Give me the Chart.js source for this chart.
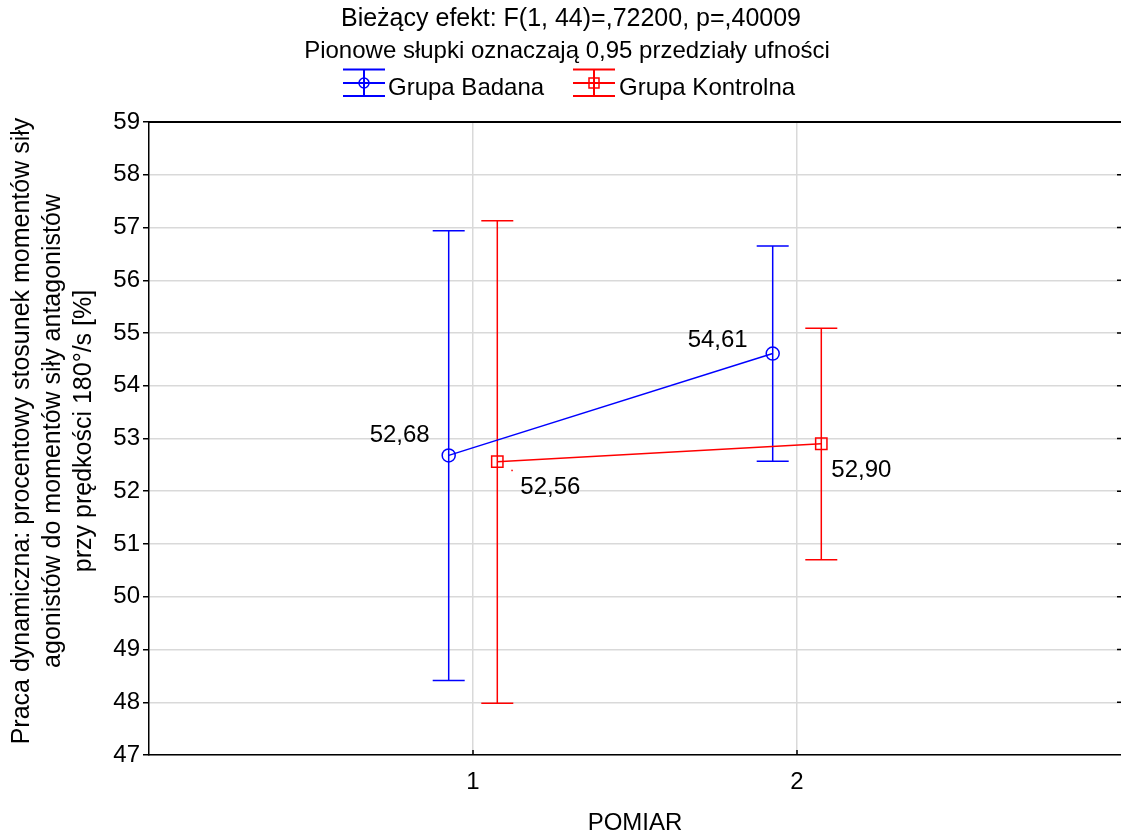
<!DOCTYPE html>
<html><head><meta charset="utf-8">
<script src="https://cdn.jsdelivr.net/npm/chart.js@4/dist/chart.umd.min.js"></script>
<style>html,body{margin:0;padding:0;background:#fff;overflow:hidden}canvas{display:block}</style>
</head><body>
<canvas id="c" width="1121" height="836"></canvas>
<script>
// ---- data ----
const categories = [1, 2];
const tickLabels = ['1', '2'];
const seriesNames = ['Grupa Badana', 'Grupa Kontrolna'];
const badanaMean = [52.68, 54.61];
const badanaLower = [48.41, 52.57];
const badanaUpper = [56.94, 56.65];
const kontrolnaMean = [52.56, 52.90];
const kontrolnaLower = [47.98, 50.70];
const kontrolnaUpper = [57.13, 55.09];
const yMin = 47, yMax = 59;
const titleLines = ['Bieżący efekt: F(1, 44)=,72200, p=,40009', 'Pionowe słupki oznaczają 0,95 przedziały ufności'];
const yTitleLines = ['Praca dynamiczna: procentowy stosunek momentów siły', 'agonistów do momentów siły antagonistów', 'przy prędkości 180°/s [%]'];
const xTitle = 'POMIAR';

// ---- style ----
const FONT = "'Liberation Sans', Arial, sans-serif";
const BLUE = '#0000ff', RED = '#ff0000', GRID = '#d9d9d9';
const groupOffset = 0.075;
const fmt = v => v.toFixed(2).replace('.', ',');

const series = [
  {name: seriesNames[0], mean: badanaMean, lo: badanaLower, hi: badanaUpper, color: BLUE, off: -groupOffset, style: 'circle',
   labelPos: [{dx: -19, dy: -13, align: 'right'}, {dx: -25, dy: -7, align: 'right'}]},
  {name: seriesNames[1], mean: kontrolnaMean, lo: kontrolnaLower, hi: kontrolnaUpper, color: RED, off: groupOffset, style: 'rect',
   labelPos: [{dx: 23, dy: 32, align: 'left'}, {dx: 10, dy: 33, align: 'left'}]}
];

const decor = {
  id: 'decor',
  beforeDatasetsDraw(chart) {
    const ctx = chart.ctx, xs = chart.scales.x, ys = chart.scales.y;
    ctx.save();
    series.forEach(s => {
      ctx.strokeStyle = s.color; ctx.lineWidth = 1.5;
      categories.forEach((c, i) => {
        const x = xs.getPixelForValue(c + s.off);
        const y1 = ys.getPixelForValue(s.lo[i]), y2 = ys.getPixelForValue(s.hi[i]);
        ctx.beginPath();
        ctx.moveTo(x, y1); ctx.lineTo(x, y2);
        ctx.moveTo(x - 16, y1); ctx.lineTo(x + 16, y1);
        ctx.moveTo(x - 16, y2); ctx.lineTo(x + 16, y2);
        ctx.stroke();
      });
    });
    ctx.restore();
  },
  afterDraw(chart) {
    const ctx = chart.ctx, xs = chart.scales.x, ys = chart.scales.y, a = chart.chartArea;
    ctx.save();
    // frame top line
    ctx.strokeStyle = '#000'; ctx.lineWidth = 2;
    ctx.beginPath(); ctx.moveTo(a.left, a.top); ctx.lineTo(a.right, a.top); ctx.stroke();
    // right inward ticks & x inward ticks
    ctx.lineWidth = 1.5;
    ctx.beginPath();
    for (let v = yMin + 1; v < yMax; v++) {
      const y = ys.getPixelForValue(v);
      ctx.moveTo(a.right - 4, y); ctx.lineTo(a.right, y);
    }
    categories.forEach(c => { const x = xs.getPixelForValue(c); ctx.moveTo(x, a.bottom); ctx.lineTo(x, a.bottom - 5); });
    ctx.stroke();

    // data labels
    ctx.fillStyle = '#000'; ctx.font = '24px ' + FONT; ctx.textBaseline = 'alphabetic';
    series.forEach(s => {
      categories.forEach((c, i) => {
        const x = xs.getPixelForValue(c + s.off), y = ys.getPixelForValue(s.mean[i]);
        const p = s.labelPos[i];
        ctx.textAlign = p.align;
        ctx.fillText(fmt(s.mean[i]), x + p.dx, y + p.dy);
      });
    });
    // tiny leader dot near red first label
    {
      const x = xs.getPixelForValue(categories[0] + series[1].off), y = ys.getPixelForValue(series[1].mean[0]);
      ctx.fillStyle = RED; ctx.fillRect(x + 14, y + 8, 1.5, 1.5);
    }

    // titles
    ctx.fillStyle = '#000'; ctx.textAlign = 'center';
    ctx.font = '25px ' + FONT;
    ctx.fillText(titleLines[0], 571, 26);
    ctx.font = '24px ' + FONT;
    ctx.fillText(titleLines[1], 567, 58);

    // legend
    const legendItems = [
      {x0: 343, text: 388, s: series[0]},
      {x0: 573, text: 619, s: series[1]}
    ];
    legendItems.forEach(L => {
      const cx = L.x0 + 21, cy = 83;
      ctx.strokeStyle = L.s.color; ctx.lineWidth = 2;
      ctx.beginPath();
      ctx.moveTo(L.x0, 69.5); ctx.lineTo(L.x0 + 42, 69.5);
      ctx.moveTo(L.x0, 96); ctx.lineTo(L.x0 + 42, 96);
      ctx.moveTo(L.x0, cy); ctx.lineTo(L.x0 + 42, cy);
      ctx.moveTo(cx, 69.5); ctx.lineTo(cx, 96);
      ctx.stroke();
      ctx.lineWidth = 1.5;
      ctx.beginPath();
      if (L.s.style === 'circle') ctx.arc(cx, cy, 5, 0, Math.PI * 2);
      else ctx.rect(cx - 5, cy - 5, 10, 10);
      ctx.stroke();
      ctx.fillStyle = '#000'; ctx.textAlign = 'left';
      ctx.fillText(L.s.name, L.text, 95);
    });

    // y axis title
    ctx.save();
    ctx.translate(0, 431);
    ctx.rotate(-Math.PI / 2);
    ctx.textAlign = 'center'; ctx.textBaseline = 'middle'; ctx.fillStyle = '#000';
    ctx.font = '25px ' + FONT;
    const xsTitle = [22, 53, 84];
    yTitleLines.forEach((t, i) => ctx.fillText(t, 0, xsTitle[i]));
    ctx.restore();
    ctx.restore();
  }
};

const mkData = s => categories.map((c, i) => ({x: c + s.off, y: s.mean[i]}));

new Chart(document.getElementById('c'), {
  type: 'line',
  data: {
    datasets: series.map(s => ({
      label: s.name,
      data: mkData(s),
      borderColor: s.color,
      borderWidth: 1.5,
      pointStyle: s.style,
      pointRadius: s.style === 'rect' ? 8 : 6.5,
      pointBorderWidth: 1.5,
      pointBorderColor: s.color,
      pointBackgroundColor: 'rgba(0,0,0,0)',
      fill: false,
      tension: 0
    }))
  },
  options: {
    responsive: false,
    animation: false,
    devicePixelRatio: 1,
    layout: {autoPadding: false, padding: {top: 122, right: 0, bottom: 0, left: 0}},
    plugins: {legend: {display: false}, title: {display: false}, tooltip: {enabled: false}},
    events: [],
    scales: {
      x: {
        type: 'linear', min: 0, max: 3, position: 'bottom',
        afterFit: s => { s.height = 81; s.paddingLeft = 0; s.paddingRight = 0; },
        ticks: {stepSize: 1, autoSkip: false, maxRotation: 0, padding: 13, color: '#000',
          font: {family: FONT, size: 24},
          callback: v => (v >= 1 && v <= 2 && Number.isInteger(v)) ? tickLabels[v - 1] : ''},
        grid: {color: c => (c.tick && (c.tick.value === 1 || c.tick.value === 2)) ? GRID : 'rgba(0,0,0,0)', lineWidth: 1.5, drawTicks: false},
        border: {display: true, color: '#000', width: 1.5},
        title: {display: true, text: xTitle, color: '#000', font: {family: FONT, size: 24}, padding: {top: 0, bottom: -2}}
      },
      y: {
        min: yMin, max: yMax,
        afterFit: s => { s.width = 149; s.paddingTop = 0; s.paddingBottom = 0; },
        ticks: {stepSize: 1, padding: 3, color: '#000', font: {family: FONT, size: 24}},
        grid: {color: c => (c.tick && c.tick.value === yMax) ? '#000' : GRID, lineWidth: 1.5, tickColor: '#000', tickLength: 6},
        border: {display: true, color: '#000', width: 1.5}
      }
    }
  },
  plugins: [decor]
});
</script>
</body></html>
